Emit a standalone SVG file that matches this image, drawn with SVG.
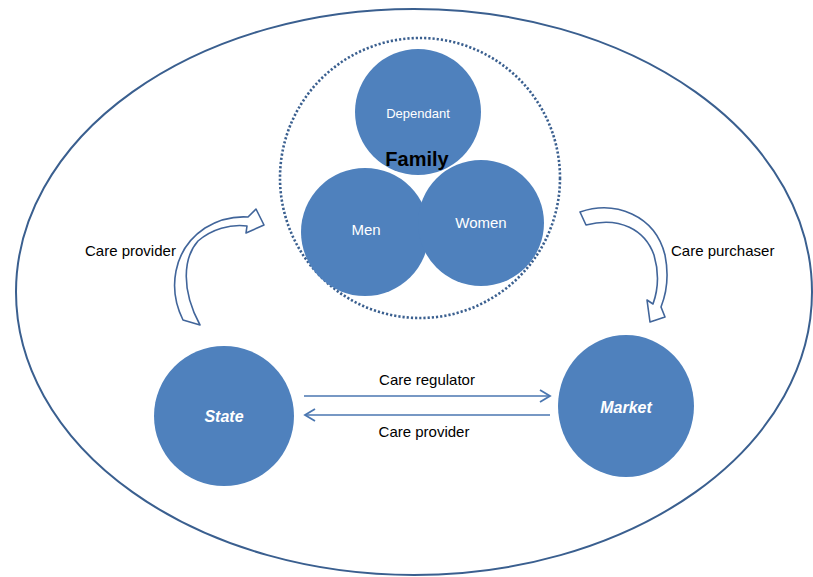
<svg xmlns="http://www.w3.org/2000/svg" width="813" height="577" viewBox="0 0 813 577">
  <defs>
    <style>
      .blob { fill: #4f81bd; }
      .wlabel { fill: #ffffff; font-family: "Liberation Sans", Arial, sans-serif; text-anchor: middle; }
      .bi { font-weight: bold; font-style: italic; font-size: 16px; }
      .label { fill: #000000; font-family: "Liberation Sans", Arial, sans-serif; font-size: 15px; }
      .curve { fill: #ffffff; stroke: #41659a; stroke-width: 1.6; stroke-linejoin: round; }
      .link { stroke: #4a76b0; stroke-width: 1.6; fill: none; }
    </style>
    <marker id="chev" markerWidth="14" markerHeight="14" refX="11" refY="7" orient="auto" markerUnits="userSpaceOnUse">
      <path d="M1 1 L11 7 L1 13" fill="none" stroke="#4a76b0" stroke-width="1.8"/>
    </marker>
  </defs>

  <rect width="813" height="577" fill="#ffffff"/>

  <!-- society boundary -->
  <g id="society">
    <ellipse cx="414" cy="292" rx="398" ry="283" fill="none" stroke="#3a5f8f" stroke-width="2"/>
  </g>

  <!-- family cluster -->
  <g id="family">
    <circle cx="420" cy="178" r="140" fill="none" stroke="#3a5f8f" stroke-width="2.6" stroke-dasharray="2.2 2"/>
    <g id="dependant">
      <circle class="blob" cx="418" cy="112" r="63"/>
      <text class="wlabel" x="418" y="118" font-size="13">Dependant</text>
    </g>
    <g id="men">
      <circle class="blob" cx="365" cy="232" r="64"/>
      <text class="wlabel" x="366" y="235" font-size="15">Men</text>
    </g>
    <g id="women">
      <circle class="blob" cx="481" cy="223" r="63"/>
      <text class="wlabel" x="481" y="228" font-size="15">Women</text>
    </g>
    <text x="417" y="166" font-family="Liberation Sans, Arial, sans-serif" font-size="20" font-weight="bold" text-anchor="middle" fill="#000000">Family</text>
  </g>

  <g id="state">
    <circle class="blob" cx="224" cy="416" r="70"/>
    <text class="wlabel bi" x="224" y="422">State</text>
  </g>

  <g id="market">
    <ellipse class="blob" cx="626" cy="406" rx="68" ry="71"/>
    <text class="wlabel bi" x="626" y="413">Market</text>
  </g>

  <!-- connectors -->
  <g id="connectors">
    <path class="curve" d="M183 320 C168 290 172 250 205 228 C218 220 232 216 248 217 L256 209 L264 225 L246 233 L247 226 C230 224 212 229 198 241 C183 258 181 290 200 325 Z"/>
    <path class="curve" d="M580 212 C615 200 655 215 665 255 C669 275 667 292 661 307 L665 317 L650 322 L647 300 L653 304 C658 290 659 272 654 255 C645 230 620 216 586 225 Z"/>
    <line class="link" x1="304" y1="396" x2="550" y2="396" marker-end="url(#chev)"/>
    <line class="link" x1="550" y1="415" x2="305" y2="415" marker-end="url(#chev)"/>
    <text class="label" x="85" y="256">Care provider</text>
    <text class="label" x="671" y="256">Care purchaser</text>
    <text class="label" x="427" y="385" text-anchor="middle">Care regulator</text>
    <text class="label" x="424" y="437" text-anchor="middle">Care provider</text>
  </g>
</svg>
